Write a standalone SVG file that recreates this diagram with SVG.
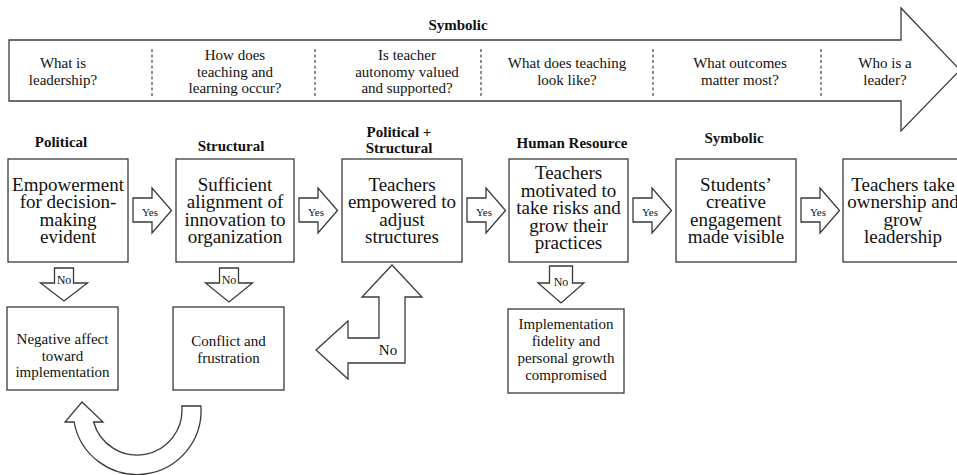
<svg xmlns="http://www.w3.org/2000/svg" width="957" height="475" viewBox="0 0 957 475">
<style>
  .shape { fill: #ffffff; stroke: #3a3a3a; stroke-width: 1.3; stroke-linejoin: miter; }
  .dash { stroke: #444; stroke-width: 1.2; stroke-dasharray: 3 2.5; fill: none; }
  text { font-family: "Liberation Serif", "Times New Roman", serif; fill: #111; text-anchor: middle; }
  .q { font-size: 15px; }
  .big { font-size: 19px; }
  .mid { font-size: 15px; }
  .cat { font-size: 15px; font-weight: bold; }
  .yes { font-size: 11px; }
  .no { font-size: 12px; }
</style>
<rect x="0" y="0" width="957" height="475" fill="#ffffff"/>

<g id="banner">
  <path class="shape" d="M 9 40 L 901 40 L 901 8 L 960 70 L 901 131 L 901 101 L 9 101 Z"/>
  <line class="dash" x1="152" y1="49" x2="152" y2="96"/>
  <line class="dash" x1="315" y1="49" x2="315" y2="96"/>
  <line class="dash" x1="481" y1="49" x2="481" y2="96"/>
  <line class="dash" x1="653" y1="49" x2="653" y2="96"/>
  <line class="dash" x1="821" y1="49" x2="821" y2="96"/>
  <text class="cat" x="458" y="30">Symbolic</text>
  <text class="q" x="63" y="68">What is</text>
  <text class="q" x="63" y="85">leadership?</text>
  <text class="q" x="235" y="60">How does</text>
  <text class="q" x="235" y="76.5">teaching and</text>
  <text class="q" x="235" y="93">learning occur?</text>
  <text class="q" x="407" y="60">Is teacher</text>
  <text class="q" x="407" y="76.5">autonomy valued</text>
  <text class="q" x="407" y="93">and supported?</text>
  <text class="q" x="567" y="68">What does teaching</text>
  <text class="q" x="567" y="85">look like?</text>
  <text class="q" x="740" y="68">What outcomes</text>
  <text class="q" x="740" y="85">matter most?</text>
  <text class="q" x="885" y="68">Who is a</text>
  <text class="q" x="885" y="85">leader?</text>
</g>

<g id="labels">
  <text class="cat" x="61" y="147">Political</text>
  <text class="cat" x="231" y="151">Structural</text>
  <text class="cat" x="399" y="136.5">Political +</text>
  <text class="cat" x="399" y="153">Structural</text>
  <text class="cat" x="572" y="147.5">Human Resource</text>
  <text class="cat" x="734" y="143">Symbolic</text>
</g>

<g id="node-empowerment">
  <rect class="shape" x="8" y="159" width="120" height="103"/>
  <text class="big" x="68" y="190.5">Empowerment</text>
  <text class="big" x="68" y="208">for decision-</text>
  <text class="big" x="68" y="225.5">making</text>
  <text class="big" x="68" y="243">evident</text>
</g>

<g id="node-alignment">
  <rect class="shape" x="176" y="159" width="118" height="103"/>
  <text class="big" x="235" y="190.5">Sufficient</text>
  <text class="big" x="235" y="208">alignment of</text>
  <text class="big" x="235" y="225.5">innovation to</text>
  <text class="big" x="235" y="243">organization</text>
</g>

<g id="node-empowered">
  <rect class="shape" x="342" y="159" width="120" height="103"/>
  <text class="big" x="402" y="190.5">Teachers</text>
  <text class="big" x="402" y="208">empowered to</text>
  <text class="big" x="402" y="225.5">adjust</text>
  <text class="big" x="402" y="243">structures</text>
</g>

<g id="node-motivated">
  <rect class="shape" x="509" y="159" width="119" height="103"/>
  <text class="big" x="568.5" y="179">Teachers</text>
  <text class="big" x="568.5" y="196.5">motivated to</text>
  <text class="big" x="568.5" y="214">take risks and</text>
  <text class="big" x="568.5" y="231.5">grow their</text>
  <text class="big" x="568.5" y="249">practices</text>
</g>

<g id="node-students">
  <rect class="shape" x="676" y="159" width="120" height="103"/>
  <text class="big" x="736" y="190.5">Students’</text>
  <text class="big" x="736" y="208">creative</text>
  <text class="big" x="736" y="225.5">engagement</text>
  <text class="big" x="736" y="243">made visible</text>
</g>

<g id="node-ownership">
  <rect class="shape" x="843" y="159" width="120" height="103"/>
  <text class="big" x="903" y="190.5">Teachers take</text>
  <text class="big" x="903" y="208">ownership and</text>
  <text class="big" x="903" y="225.5">grow</text>
  <text class="big" x="903" y="243">leadership</text>
</g>

<g id="node-negative">
  <rect class="shape" x="7" y="307" width="111" height="83"/>
  <text class="mid" x="62.5" y="344">Negative affect</text>
  <text class="mid" x="62.5" y="360.5">toward</text>
  <text class="mid" x="62.5" y="377">implementation</text>
</g>

<g id="node-conflict">
  <rect class="shape" x="173" y="307" width="111" height="83"/>
  <text class="mid" x="228.5" y="346">Conflict and</text>
  <text class="mid" x="228.5" y="363">frustration</text>
</g>

<g id="node-fidelity">
  <rect class="shape" x="508" y="309" width="116" height="84"/>
  <text class="mid" x="566" y="328.5">Implementation</text>
  <text class="mid" x="566" y="345.7">fidelity and</text>
  <text class="mid" x="566" y="363">personal growth</text>
  <text class="mid" x="566" y="380">compromised</text>
</g>

<g id="connectors">
  <path class="shape" d="M 133 198 L 152 198 L 152 188 L 171.5 210.5 L 152 233 L 152 222 L 133 222 Z"/>
  <text class="yes" x="150" y="216">Yes</text>
  <path class="shape" d="M 299 198 L 318 198 L 318 188 L 337.5 210.5 L 318 233 L 318 222 L 299 222 Z"/>
  <text class="yes" x="316" y="216">Yes</text>
  <path class="shape" d="M 467 198 L 486 198 L 486 188 L 505.5 210.5 L 486 233 L 486 222 L 467 222 Z"/>
  <text class="yes" x="484" y="216">Yes</text>
  <path class="shape" d="M 633 198 L 652 198 L 652 188 L 671.5 210.5 L 652 233 L 652 222 L 633 222 Z"/>
  <text class="yes" x="650" y="216">Yes</text>
  <path class="shape" d="M 801 198 L 820 198 L 820 188 L 839.5 210.5 L 820 233 L 820 222 L 801 222 Z"/>
  <text class="yes" x="818" y="216">Yes</text>

  <path class="shape" d="M 54.5 268 L 73.5 268 L 73.5 283 L 87.5 283 L 64 301 L 40.5 283 L 54.5 283 Z"/>
  <text class="no" x="64" y="284">No</text>
  <path class="shape" d="M 219.5 268 L 238.5 268 L 238.5 283 L 252.5 283 L 229 302 L 205.5 283 L 219.5 283 Z"/>
  <text class="no" x="229" y="284">No</text>
  <path class="shape" d="M 549.5 266 L 572.5 266 L 572.5 283 L 584 283 L 561 303 L 538 283 L 549.5 283 Z"/>
  <text class="no" x="561" y="286">No</text>

  <path class="shape" d="M 392 265 L 422 297 L 405 297 L 405 363 L 348 363 L 348 379 L 316 350 L 348 321 L 348 338 L 379 338 L 379 297 L 362 297 Z"/>
  <text class="mid" x="388" y="355">No</text>

  <path class="shape" d="M 181.8 406 L 200.9 406 A 64 64 0 0 1 74.1 422 L 65 422 L 82 402 L 103 422 L 93.6 422 A 45 45 0 0 0 181.8 406 Z"/>
</g>
</svg>
